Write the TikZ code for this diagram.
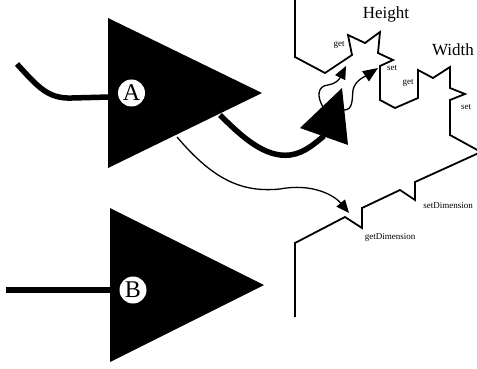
\documentclass[tikz,border=0pt]{standalone}
\usepackage{fontspec}
\setmainfont{Liberation Serif}
\usetikzlibrary{arrows.meta}
\begin{document}
\begin{tikzpicture}[x=1pt,y=-1pt,
  port/.style={circle,fill=white,inner sep=0pt,minimum size=27pt,
    font=\fontsize{24}{24}\selectfont},
  outline/.style={line width=1.8pt,line join=miter,miter limit=10},
  thinwire/.style={line width=1.3pt},
  thickwire/.style={line width=5.5pt},
  smalllabel/.style={font=\fontsize{9}{9}\selectfont,inner sep=0pt},
  biglabel/.style={font=\fontsize{17}{17}\selectfont,inner sep=0pt},
  headA/.style={-{Triangle[length=13pt,width=11pt]}},
  headB/.style={-{Triangle[length=15pt,width=12pt]}}]
\useasboundingbox (0,0) rectangle (477,369);
\clip (0,0) rectangle (477,369);

% component shapes
\coordinate (ta1) at (108,18);
\coordinate (ta2) at (108,168);
\coordinate (ta3) at (262,93);
\coordinate (tb1) at (110,208);
\coordinate (tb2) at (110,362);
\coordinate (tb3) at (264,285);
\coordinate (tc1) at (300,128);
\coordinate (tc2) at (342,88);
\coordinate (tc3) at (348,145);

% wire ends
\coordinate (inA) at (17,64);
\coordinate (inB) at (6,290);
\coordinate (outA1) at (220,115);
\coordinate (outA2) at (177,137);
\coordinate (inC) at (324,136);
\coordinate (outC1) at (323,107);
\coordinate (outC2) at (344,110);
\coordinate (getH) at (346,66);
\coordinate (setH) at (378,68);
\coordinate (getD) at (349,213);

% interface outline
\draw[outline] (295,-3) -- (295,57) -- (325,73) -- (352,55) -- (348,35)
  -- (365,43) -- (380,32) -- (378,53) -- (393,60) -- (380,66) -- (380,100)
  -- (395,108) -- (418,98) -- (418,70) -- (433,78) -- (450,67) -- (450,88)
  -- (465,94) -- (450,100) -- (450,135) -- (481,152) -- (415,182)
  -- (415,200) -- (400,190) -- (362,208) -- (362,228) -- (345,217)
  -- (295,243) -- (295,317);

% input wires
\draw[thickwire] (inA) .. controls (38,87) and (48,99) .. (72,98) -- (110,97);
\draw[thickwire] (inB) -- (112,290);

% connections
\draw[thickwire] (outA1) .. controls (242,137) and (265,158) .. (290,155)
  .. controls (305,153) and (315,143) .. (inC);
\draw[thinwire,headA] (outA2) .. controls (212,178) and (240,193) .. (280,189)
  .. controls (312,183) and (334,195) .. (getD);
\draw[thinwire,headA] (outC1) .. controls (317,97) and (317,86) .. (328,85)
  .. controls (335,84) and (339,80) .. (getH);
\draw[thinwire,headB] (outC2) .. controls (353,110) and (352,100) .. (353,90)
  .. controls (355,80) and (366,76) .. (setH);

% components
\fill (ta1) -- (ta2) -- (ta3) -- cycle;
\fill (tb1) -- (tb2) -- (tb3) -- cycle;
\fill (tc1) -- (tc2) -- (tc3) -- cycle;
\node[port] (A) at (131.5,93) {A};
\node[port] (B) at (133,290) {B};

% labels
\node[biglabel] (height) at (386,14) {Height};
\node[biglabel] (width) at (453,50) {Width};
\node[smalllabel] (lg1) at (339,45) {get};
\node[smalllabel] (ls1) at (392,68) {set};
\node[smalllabel] (lg2) at (408,83) {get};
\node[smalllabel] (ls2) at (466,107) {set};
\node[smalllabel] (lsd) at (448,206) {setDimension};
\node[smalllabel] (lgd) at (390,237) {getDimension};
\end{tikzpicture}
\end{document}
